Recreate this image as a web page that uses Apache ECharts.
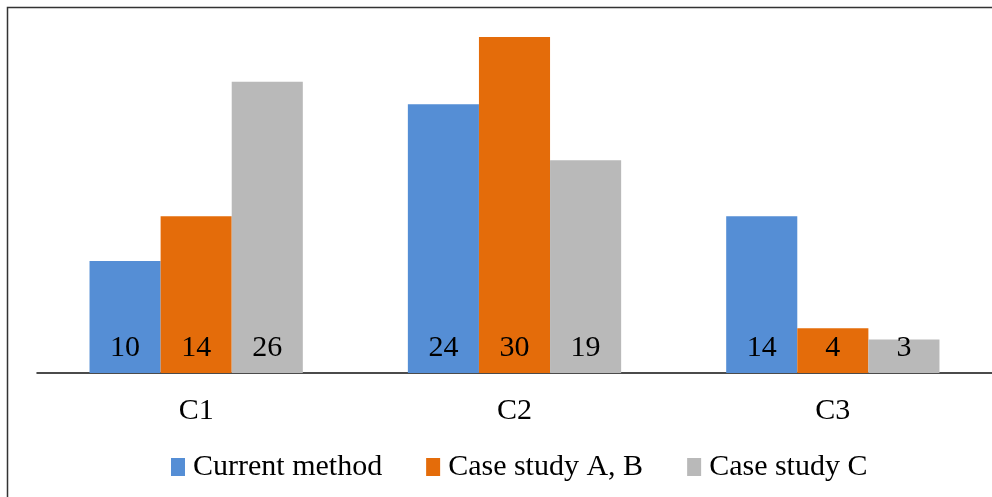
<!DOCTYPE html>
<html><head><meta charset="utf-8">
<script src="https://cdn.jsdelivr.net/npm/echarts@6/dist/echarts.min.js"></script>
<style>html,body{margin:0;padding:0;background:#fff}#c{width:992px;height:497px}</style>
</head><body><div id="c"></div>
<script>
const categories = ['C1', 'C2', 'C3'];
const currentMethod = [10, 24, 14];
const caseStudyAB = [14, 30, 4];
const caseStudyC = [26, 19, 3];
const seriesNames = ['Current method', 'Case study A, B', 'Case study C'];
const colors = ['#558ED5', '#E46C0A', '#B9B9B9'];
const font = '"Liberation Serif", "Times New Roman", serif';

const chart = echarts.init(document.getElementById('c'));
const label = {
  show: true, position: 'insideBottom', distance: 10,
  color: '#000', fontFamily: font, fontSize: 30
};
function mk(i, data) {
  return { name: seriesNames[i], type: 'bar', data: data, barGap: '0%', barCategoryGap: '33%',
    itemStyle: { color: colors[i] }, label: label, emphasis: { disabled: true } };
}
chart.setOption({
  animation: false,
  graphic: [{ type: 'rect', shape: { x: 7.5, y: 7.5, width: 1100, height: 600 },
    style: { fill: 'none', stroke: '#333', lineWidth: 1.5 }, silent: true }],
  grid: { left: 37, right: 0, top: 37, bottom: 124 },
  legend: {
    bottom: 10, left: 166, itemWidth: 14, itemHeight: 18, itemGap: 44,
    icon: 'rect',
    textStyle: { fontFamily: font, fontSize: 30, color: '#000', padding: [0, 0, 0, 3] },
    data: seriesNames
  },
  xAxis: {
    type: 'category', data: categories,
    axisLine: { lineStyle: { color: '#111', width: 1.5 } },
    axisTick: { show: false },
    axisLabel: { margin: 23, fontFamily: font, fontSize: 30, color: '#000' }
  },
  yAxis: { type: 'value', min: 0, max: 30, show: false, splitLine: { show: false } },
  series: [mk(0, currentMethod), mk(1, caseStudyAB), mk(2, caseStudyC)]
});
</script></body></html>
